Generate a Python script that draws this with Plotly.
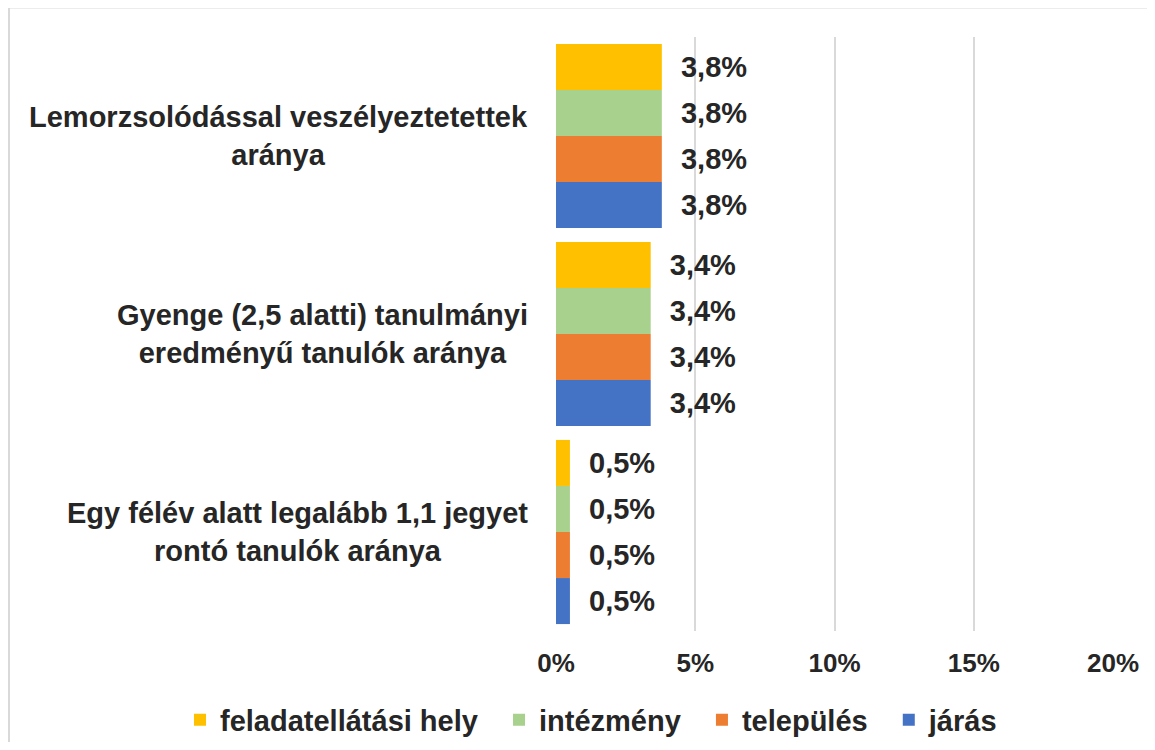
import plotly.graph_objects as go

categories = [
    "Lemorzsolódással veszélyeztetettek<br>aránya",
    "Gyenge (2,5 alatti) tanulmányi<br>eredményű tanulók aránya",
    "Egy félév alatt legalább 1,1 jegyet<br>rontó tanulók aránya",
]
series_names = ["feladatellátási hely", "intézmény", "település", "járás"]
series_values = [
    [3.8, 3.4, 0.5],
    [3.8, 3.4, 0.5],
    [3.8, 3.4, 0.5],
    [3.8, 3.4, 0.5],
]
series_labels = [
    ["3,8%", "3,4%", "0,5%"],
    ["3,8%", "3,4%", "0,5%"],
    ["3,8%", "3,4%", "0,5%"],
    ["3,8%", "3,4%", "0,5%"],
]
colors = ["#FFC000", "#A9D18E", "#ED7D31", "#4472C4"]
tick_vals = [0, 5, 10, 15, 20]
tick_text = ["0%", "5%", "10%", "15%", "20%"]

FONT = "Liberation Sans, Arial, sans-serif"
TXT = "#262626"

# page body has an 8px margin; figure pixel = screenshot pixel - 8
W, H = 1147, 734
L, R, T, B = 548, 1105, 29, 623

fig = go.Figure()
for name, vals, labs, col in zip(series_names, series_values, series_labels, colors):
    fig.add_trace(go.Bar(
        name=name + "\u00a0\u00a0", y=categories, x=vals, orientation="h",
        marker=dict(color=col, line=dict(width=0)),
        text=["\u00a0\u00a0" + s for s in labs], textposition="outside",
        textfont=dict(family=FONT, size=29, color=TXT, weight="bold"),
        constraintext="none", cliponaxis=False,
    ))

def px_x(p):
    return (p - L) / (R - L)

def px_y(p):
    return (B - p) / (B - T)

annotations = []
for c in categories:
    annotations.append(dict(
        x=px_x(522), xref="paper", xanchor="right",
        y=c, yref="y", yanchor="middle", text=c, showarrow=False, align="center",
        font=dict(family=FONT, size=29, color=TXT, weight="bold"),
    ))

shapes = [
    dict(type="line", xref="paper", yref="paper", x0=px_x(0), x1=px_x(1160), y0=px_y(-0.5), y1=px_y(-0.5),
         line=dict(color="#D9D9D9", width=2)),
    dict(type="line", xref="paper", yref="paper", x0=px_x(1), x1=px_x(1), y0=px_y(-1), y1=px_y(760),
         line=dict(color="#D9D9D9", width=2)),
]

fig.update_layout(
    width=W, height=H,
    margin=dict(l=L, r=W - R, t=T, b=H - B, autoexpand=False),
    paper_bgcolor="white", plot_bgcolor="white",
    barmode="group", bargap=0.07, bargroupgap=0,
    font=dict(family=FONT, color=TXT, size=26, weight="bold"),
    xaxis=dict(range=[0, 20], tickvals=tick_vals, ticktext=tick_text, showgrid=True,
               gridcolor="#D9D9D9", gridwidth=1.5, zeroline=False, showline=False,
               ticks="", ticklabelstandoff=14,
               tickfont=dict(family=FONT, size=26, color=TXT, weight="bold")),
    yaxis=dict(autorange="reversed", showticklabels=False, showgrid=False, zeroline=False,
               showline=False, ticks=""),
    showlegend=True,
    legend=dict(orientation="h", xref="paper", yref="paper", x=px_x(172), xanchor="left",
                y=px_y(712), yanchor="middle",
                font=dict(family=FONT, size=29, color=TXT, weight="bold"),
                itemwidth=30, traceorder="normal", bgcolor="rgba(0,0,0,0)"),
    annotations=annotations, shapes=shapes,
)

fig.write_html("out.html")
